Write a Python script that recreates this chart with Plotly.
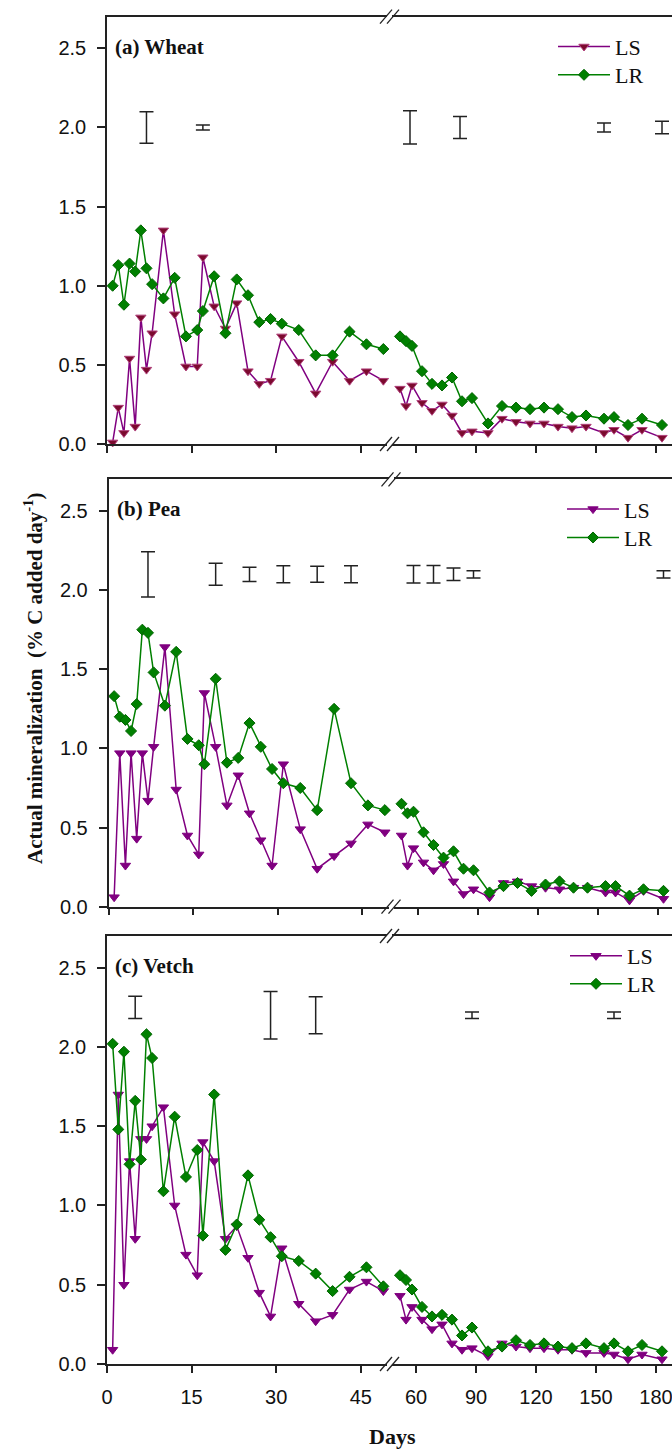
import plotly.graph_objects as go

# ---------------- data ----------------
days_left = [1, 2, 3, 4, 5, 6, 7, 8, 10, 12, 14, 16, 17, 19, 21, 23, 25, 27, 29, 31, 34, 37, 40, 43, 46, 49]
days_right = [52, 55, 58, 63, 68, 73, 78, 83, 88, 96, 103, 110, 117, 124, 131, 138, 145, 154, 159, 166, 173, 183]

# (a) Wheat
wheat_LS = [0.01, 0.23, 0.07, 0.54, 0.11, 0.80, 0.47, 0.70, 1.35, 0.82, 0.49, 0.49, 1.18, 0.87, 0.73, 0.89, 0.46, 0.38, 0.40, 0.68, 0.52, 0.32, 0.52, 0.40, 0.46, 0.40,
            0.35, 0.24, 0.37, 0.26, 0.21, 0.25, 0.18, 0.07, 0.08, 0.07, 0.16, 0.14, 0.13, 0.13, 0.11, 0.10, 0.11, 0.07, 0.09, 0.04, 0.09, 0.04]
wheat_LR = [1.00, 1.13, 0.88, 1.14, 1.09, 1.35, 1.11, 1.01, 0.92, 1.05, 0.68, 0.72, 0.84, 1.06, 0.70, 1.04, 0.94, 0.77, 0.79, 0.76, 0.72, 0.56, 0.56, 0.71, 0.63, 0.60,
            0.68, 0.65, 0.62, 0.46, 0.38, 0.37, 0.42, 0.27, 0.29, 0.13, 0.24, 0.23, 0.22, 0.23, 0.22, 0.17, 0.18, 0.16, 0.17, 0.12, 0.16, 0.12]
wheat_lsd_days = [7, 17, 57, 82, 154, 183]
wheat_lsd_mid = [2.0, 2.0, 2.0, 2.0, 2.0, 2.0]
wheat_lsd_half = [0.10, 0.016, 0.105, 0.07, 0.028, 0.04]

# (b) Pea
pea_LS = [0.06, 0.97, 0.26, 0.97, 0.43, 0.97, 0.67, 1.01, 1.64, 0.74, 0.45, 0.33, 1.35, 1.01, 0.64, 0.83, 0.59, 0.42, 0.26, 0.90, 0.49, 0.24, 0.32, 0.40, 0.52, 0.47,
          0.45, 0.26, 0.37, 0.28, 0.23, 0.27, 0.16, 0.08, 0.11, 0.06, 0.15, 0.16, 0.13, 0.12, 0.11, 0.12, 0.12, 0.09, 0.09, 0.04, 0.10, 0.05]
pea_LR = [1.33, 1.20, 1.18, 1.11, 1.28, 1.75, 1.73, 1.48, 1.27, 1.61, 1.06, 1.02, 0.90, 1.44, 0.91, 0.94, 1.16, 1.01, 0.87, 0.78, 0.75, 0.61, 1.25, 0.78, 0.64, 0.61,
          0.65, 0.59, 0.60, 0.47, 0.39, 0.31, 0.35, 0.24, 0.23, 0.09, 0.13, 0.15, 0.10, 0.14, 0.16, 0.12, 0.12, 0.13, 0.13, 0.07, 0.11, 0.10]
pea_lsd_days = [7, 19, 25, 31, 37, 43, 58, 68, 78, 88, 183]
pea_lsd_mid = [2.10, 2.10, 2.10, 2.10, 2.10, 2.10, 2.10, 2.10, 2.10, 2.10, 2.10]
pea_lsd_half = [0.143, 0.07, 0.045, 0.054, 0.05, 0.054, 0.055, 0.055, 0.039, 0.023, 0.023]

# (c) Vetch
vetch_LS = [0.09, 1.70, 0.50, 1.28, 0.79, 1.42, 1.42, 1.50, 1.62, 1.00, 0.69, 0.56, 1.40, 1.28, 0.79, 0.87, 0.67, 0.45, 0.30, 0.73, 0.38, 0.27, 0.31, 0.47, 0.52, 0.46,
            0.43, 0.28, 0.36, 0.28, 0.22, 0.25, 0.13, 0.09, 0.10, 0.05, 0.13, 0.11, 0.10, 0.10, 0.09, 0.09, 0.07, 0.07, 0.06, 0.03, 0.06, 0.03]
vetch_LR = [2.02, 1.48, 1.97, 1.26, 1.66, 1.29, 2.08, 1.93, 1.09, 1.56, 1.18, 1.35, 0.81, 1.70, 0.72, 0.88, 1.19, 0.91, 0.80, 0.68, 0.65, 0.57, 0.46, 0.55, 0.61, 0.49,
            0.56, 0.53, 0.47, 0.36, 0.30, 0.31, 0.28, 0.18, 0.23, 0.08, 0.11, 0.15, 0.12, 0.13, 0.11, 0.10, 0.13, 0.10, 0.13, 0.08, 0.12, 0.08]
vetch_lsd_days = [5, 29, 37, 88, 159]
vetch_lsd_mid = [2.25, 2.20, 2.20, 2.20, 2.20]
vetch_lsd_half = [0.07, 0.15, 0.116, 0.02, 0.02]

panel_titles = ["(a) Wheat", "(b) Pea", "(c) Vetch"]
series_names = ["LS", "LR"]
x_tickvals_left = [0, 15, 30, 45]
x_tickvals_right = [60, 90, 120, 150, 180]
y_tickvals = [0.0, 0.5, 1.0, 1.5, 2.0, 2.5]
BREAK_DAY = 50

# ---------------- style / layout ----------------
W, H = 672, 1452
AX = "#222222"
PURPLE = "#800080"
GREEN = "#008000"
SERIF = "Liberation Serif, Times New Roman, serif"
SANS = "Liberation Sans, Arial, sans-serif"

X0 = 107.0          # pixel of day 0
PX_DAY_L = 5.64     # px per day, left segment
XL_END = 387.0      # end of left segment (px)
XR_START = 392.0    # start of right segment (px)
X60 = 416.0         # pixel of day 60
PX_DAY_R = 2.0
panel_px = [(16.7, 444.0), (479.3, 906.7), (936.0, 1364.0)]   # top, bottom of each plot area
panel_dx = [0.0, 1.5, 0.0]
LEG_ITEMW = 52
legend_item_x = [553.0, 562.0, 565.0]                 # left of legend item (line starts +5)
legend_item_y = [(46.7, 75.0), (509.3, 537.7), (956.0, 984.0)]

panels = [
    (wheat_LS, wheat_LR, wheat_lsd_days, wheat_lsd_mid, wheat_lsd_half, "#7b0a2e", "#b0407a"),
    (pea_LS, pea_LR, pea_lsd_days, pea_lsd_mid, pea_lsd_half, PURPLE, PURPLE),
    (vetch_LS, vetch_LR, vetch_lsd_days, vetch_lsd_mid, vetch_lsd_half, PURPLE, PURPLE),
]

all_days = days_left + days_right

fig = go.Figure()
layout = dict(
    width=W, height=H, margin=dict(l=0, r=0, t=0, b=0),
    paper_bgcolor="white", plot_bgcolor="white",
    showlegend=True, annotations=[], shapes=[],
)


def split(vals, days):
    L = [(d, v) for d, v in zip(days, vals) if d < BREAK_DAY]
    R = [(d, v) for d, v in zip(days, vals) if d >= BREAK_DAY]
    return L, R


leg_count = 0
for i, (LS, LR, ld, lm, lh, ls_fill, ls_edge) in enumerate(panels):
    xl_name = "x" if i == 0 else f"x{2 * i + 1}"
    xr_name = f"x{2 * i + 2}"
    y_name = "y" if i == 0 else f"y{i + 1}"
    top, bot = panel_px[i]
    dx = panel_dx[i]

    for k, (vals, name, color, sym, size, mfill, medge) in enumerate([
        (LS, series_names[0], PURPLE, "triangle-down", 9, ls_fill, ls_edge),
        (LR, series_names[1], GREEN, "diamond", 8.5, GREEN, "#006400"),
    ]):
        leg_count += 1
        leg = "legend" if leg_count == 1 else f"legend{leg_count}"
        layout[leg] = dict(x=legend_item_x[i] / W, y=1 - legend_item_y[i][k] / H,
                           xanchor="left", yanchor="middle",
                           bgcolor="rgba(0,0,0,0)", borderwidth=0,
                           font=dict(family=SERIF, size=22, color="#111111"),
                           itemwidth=LEG_ITEMW, tracegroupgap=0)
        L, R = split(vals, all_days)
        for part, xa, show in [(L, xl_name, True), (R, xr_name, False)]:
            fig.add_trace(go.Scatter(
                x=[p[0] for p in part], y=[p[1] for p in part],
                xaxis=xa, yaxis=y_name, name=name, legend=leg,
                showlegend=show, mode="lines+markers",
                line=dict(color=color, width=1.5),
                marker=dict(symbol=sym, size=size, color=mfill,
                            line=dict(color=medge, width=1)),
                cliponaxis=False, hoverinfo="skip",
            ))

    # LSD bars
    Ld, Rd = split(list(zip(lm, lh)), ld)
    for part, xa in [(Ld, xl_name), (Rd, xr_name)]:
        if not part:
            continue
        fig.add_trace(go.Scatter(
            x=[p[0] for p in part], y=[p[1][0] for p in part],
            xaxis=xa, yaxis=y_name, mode="markers", showlegend=False,
            marker=dict(size=2, opacity=0),
            error_y=dict(type="data", array=[p[1][1] for p in part],
                         color=AX, thickness=1.5, width=7),
            hoverinfo="skip",
        ))

    ydom = [1 - bot / H, 1 - top / H]
    common_x = dict(showline=True, linecolor=AX, linewidth=1.5, mirror=True,
                    ticks="outside", ticklen=7, tickwidth=1.5, tickcolor=AX,
                    showgrid=False, zeroline=False, anchor=y_name,
                    tickfont=dict(family=SANS, size=20, color="#111111"),
                    showticklabels=(i == 2), ticklabelstandoff=7,
                    ticklabeloverflow="allow", automargin=False)
    xl_key = "xaxis" if i == 0 else f"xaxis{2 * i + 1}"
    xr_key = f"xaxis{2 * i + 2}"
    layout[xl_key] = dict(common_x,
                          domain=[(X0 + dx) / W, (XL_END + dx) / W],
                          range=[0, (XL_END - X0) / PX_DAY_L],
                          tickvals=x_tickvals_left)
    layout[xr_key] = dict(common_x,
                          domain=[(XR_START + dx) / W, 1.0],
                          range=[60 - (X60 - XR_START) / PX_DAY_R, 60 + (W - X60 - dx) / PX_DAY_R],
                          tickvals=x_tickvals_right)
    y_key = "yaxis" if i == 0 else f"yaxis{i + 1}"
    layout[y_key] = dict(domain=ydom, range=[0, 2.70], anchor=xl_name,
                         showline=True, linecolor=AX, linewidth=1.5, mirror=False,
                         ticks="outside", ticklen=8, tickwidth=1.5, tickcolor=AX,
                         tickvals=y_tickvals, tickformat=".1f",
                         showgrid=False, zeroline=False, automargin=False,
                         tickfont=dict(family=SANS, size=20, color="#111111"),
                         ticklabelstandoff=7)

    # panel label
    layout["annotations"].append(dict(
        text=f"<b>{panel_titles[i]}</b>", xref="paper", yref="paper",
        x=(113 + dx) / W, y=1 - (top + 30) / H, xanchor="left", yanchor="middle",
        showarrow=False, font=dict(family=SERIF, size=21, color="#111111")))

    # axis break marks "//" at top and bottom
    xb = (XL_END + XR_START) / 2 + dx
    for yy in (top, bot):
        for off in (-3.5, 3.5):
            layout["shapes"].append(dict(
                type="line", xref="paper", yref="paper",
                x0=(xb + off - 6) / W, y0=1 - (yy + 7) / H,
                x1=(xb + off + 6) / W, y1=1 - (yy - 7) / H,
                line=dict(color=AX, width=1.3)))

layout["annotations"].append(dict(
    text="<b>Actual mineralization  (% C added day<sup>-1</sup>)</b>",
    xref="paper", yref="paper", x=33 / W, y=1 - 678 / H, textangle=-90,
    xanchor="center", yanchor="middle", showarrow=False,
    font=dict(family=SERIF, size=21, color="#111111")))
layout["annotations"].append(dict(
    text="<b>Days</b>", xref="paper", yref="paper", x=392 / W, y=1 - 1436 / H,
    xanchor="center", yanchor="middle", showarrow=False,
    font=dict(family=SERIF, size=22, color="#111111")))

fig.update_layout(**layout)
fig.write_html("out.html")
